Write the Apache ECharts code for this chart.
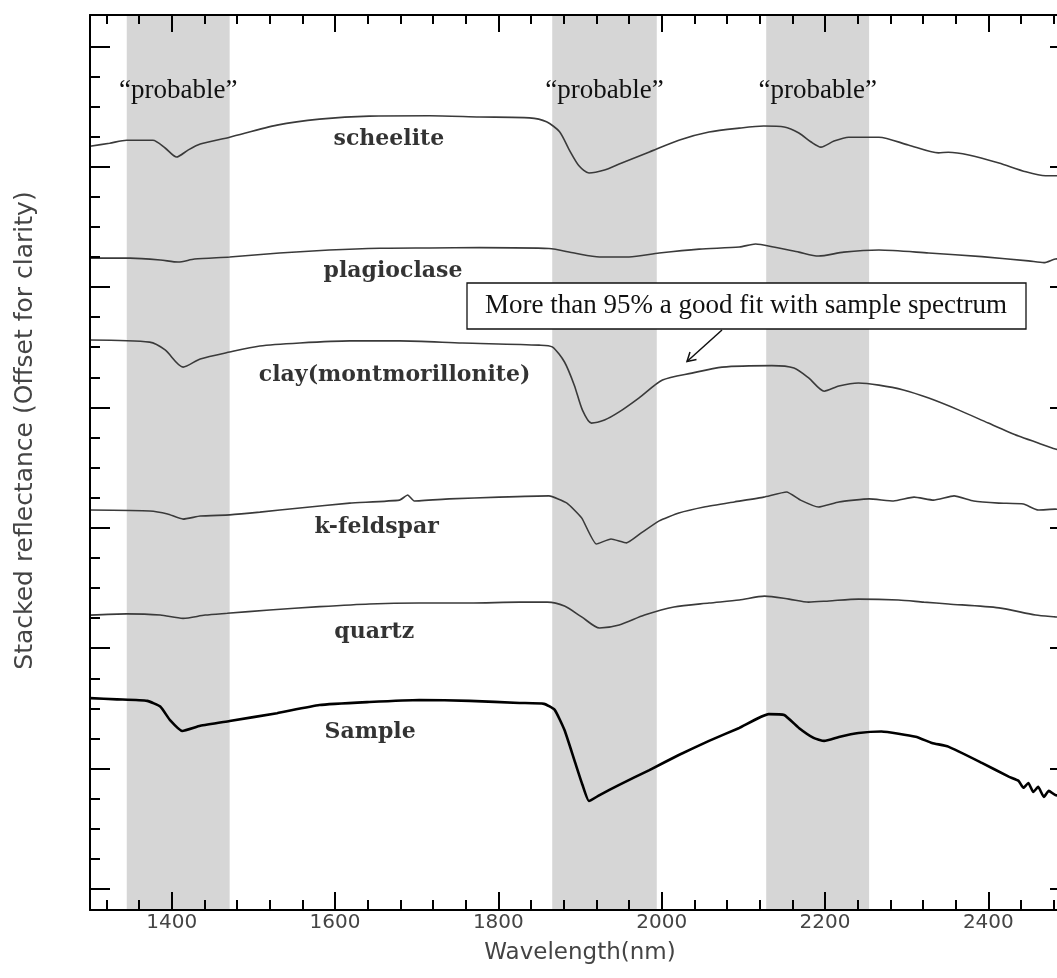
<!DOCTYPE html>
<html>
<head>
<meta charset="utf-8">
<title>Stacked reflectance spectra</title>
<script src="https://cdn.jsdelivr.net/npm/echarts@6/dist/echarts.min.js"></script>
<style>
  html, body { margin: 0; padding: 0; background: #fff; }
  #chart { width: 1057px; height: 978px; }
</style>
</head>
<body>
<div id="chart"></div>
<script>
// tick positions
const wavelengthTicks = [1400, 1600, 1800, 2000, 2200, 2400]
const minorWavelengthTicks = [1320, 1360, 1440, 1480, 1520, 1560, 1640, 1680, 1720, 1760,
  1840, 1880, 1920, 1960, 2040, 2080, 2120, 2160, 2240, 2280, 2320, 2360, 2440, 2480]
const reflectanceTicks = [0, 0.4, 0.8, 1.2, 1.6, 2.0, 2.4, 2.8]
const minorReflectanceTicks = [0.1, 0.2, 0.3, 0.5, 0.6, 0.7, 0.9, 1.0, 1.1, 1.3, 1.4, 1.5,
  1.7, 1.8, 1.9, 2.1, 2.2, 2.3, 2.5, 2.6, 2.7]

// shaded "probable" absorption windows (nm)
const probableBands = [[1345, 1471], [1866, 1994], [2128, 2254]]

// spectra: [wavelength nm, stacked reflectance]
const scheelite = [
  [1300, 2.468], [1324, 2.478], [1345, 2.488], [1377, 2.488], [1392, 2.462], [1406, 2.432],
  [1420, 2.455], [1435, 2.475], [1471, 2.498], [1529, 2.538], [1581, 2.558], [1642, 2.568],
  [1716, 2.569], [1777, 2.565], [1838, 2.562], [1859, 2.549], [1875, 2.516], [1887, 2.455],
  [1899, 2.402], [1911, 2.379], [1930, 2.389], [1948, 2.409], [1985, 2.449], [2021, 2.488],
  [2058, 2.515], [2095, 2.528], [2125, 2.535], [2150, 2.532], [2168, 2.512], [2183, 2.482],
  [2195, 2.465], [2211, 2.485], [2229, 2.498], [2266, 2.498], [2302, 2.472], [2339, 2.446],
  [2351, 2.448], [2376, 2.439], [2413, 2.412], [2446, 2.383], [2470, 2.370], [2482, 2.370],
  [2500, 2.365]
]
const plagioclase = [
  [1300, 2.096], [1349, 2.096], [1386, 2.090], [1408, 2.083], [1428, 2.093], [1471, 2.100],
  [1532, 2.113], [1593, 2.123], [1655, 2.129], [1716, 2.130], [1777, 2.131], [1862, 2.128],
  [1893, 2.113], [1924, 2.100], [1960, 2.100], [1997, 2.113], [2046, 2.126], [2095, 2.133],
  [2115, 2.143], [2137, 2.133], [2168, 2.116], [2192, 2.103], [2223, 2.116], [2266, 2.123],
  [2327, 2.113], [2392, 2.101], [2449, 2.087], [2468, 2.081], [2482, 2.093], [2500, 2.096]
]
const clay = [
  [1300, 1.824], [1373, 1.817], [1392, 1.791], [1414, 1.734], [1435, 1.761], [1471, 1.784],
  [1508, 1.804], [1557, 1.814], [1618, 1.821], [1679, 1.821], [1756, 1.814], [1850, 1.807],
  [1866, 1.801], [1881, 1.751], [1893, 1.674], [1903, 1.591], [1914, 1.548], [1930, 1.558],
  [1948, 1.585], [1972, 1.631], [2001, 1.691], [2037, 1.714], [2074, 1.734], [2135, 1.739],
  [2162, 1.731], [2180, 1.698], [2199, 1.654], [2217, 1.671], [2241, 1.681], [2266, 1.674],
  [2296, 1.658], [2327, 1.631], [2364, 1.591], [2400, 1.548], [2437, 1.505], [2461, 1.482],
  [2482, 1.462], [2500, 1.452]
]
const kFeldspar = [
  [1300, 1.259], [1373, 1.256], [1395, 1.246], [1414, 1.229], [1435, 1.239], [1471, 1.243],
  [1508, 1.252], [1557, 1.266], [1618, 1.282], [1679, 1.292], [1689, 1.309], [1697, 1.289],
  [1740, 1.296], [1801, 1.302], [1862, 1.306], [1884, 1.282], [1902, 1.233], [1920, 1.146],
  [1938, 1.163], [1957, 1.150], [1975, 1.183], [1997, 1.223], [2021, 1.249], [2052, 1.269],
  [2089, 1.286], [2125, 1.302], [2153, 1.319], [2170, 1.292], [2192, 1.269], [2217, 1.286],
  [2254, 1.296], [2284, 1.289], [2309, 1.302], [2333, 1.292], [2358, 1.306], [2382, 1.289],
  [2413, 1.282], [2443, 1.279], [2461, 1.259], [2482, 1.262], [2500, 1.256]
]
const quartz = [
  [1300, 0.910], [1345, 0.914], [1386, 0.910], [1414, 0.899], [1441, 0.910], [1468, 0.916],
  [1520, 0.927], [1581, 0.938], [1642, 0.947], [1703, 0.950], [1765, 0.950], [1826, 0.953],
  [1860, 0.953], [1881, 0.940], [1902, 0.904], [1924, 0.867], [1948, 0.877], [1979, 0.910],
  [2015, 0.937], [2058, 0.950], [2095, 0.960], [2126, 0.973], [2156, 0.963], [2180, 0.953],
  [2205, 0.957], [2241, 0.963], [2290, 0.960], [2321, 0.953], [2351, 0.947], [2413, 0.934],
  [2458, 0.910], [2482, 0.904], [2500, 0.900]
]
const sample = [
  [1300, 0.634], [1333, 0.630], [1370, 0.625], [1386, 0.606], [1398, 0.561], [1413, 0.525],
  [1435, 0.542], [1471, 0.558], [1529, 0.584], [1581, 0.611], [1642, 0.621], [1703, 0.628],
  [1765, 0.625], [1826, 0.618], [1856, 0.615], [1869, 0.595], [1881, 0.528], [1893, 0.429],
  [1903, 0.346], [1911, 0.292], [1924, 0.312], [1948, 0.346], [1985, 0.395], [2021, 0.445],
  [2058, 0.492], [2095, 0.535], [2131, 0.581], [2150, 0.578], [2168, 0.535], [2186, 0.502],
  [2199, 0.492], [2217, 0.505], [2241, 0.518], [2269, 0.523], [2311, 0.506], [2331, 0.485],
  [2351, 0.473], [2392, 0.419], [2425, 0.373], [2437, 0.359], [2443, 0.336], [2449, 0.352],
  [2455, 0.322], [2461, 0.339], [2468, 0.306], [2474, 0.326], [2482, 0.312], [2500, 0.306]
]

// curve names and where they sit: [text, nm, reflectance]
const curveLabels = [
  ['scheelite', 1666, 2.492],
  ['plagioclase', 1671, 2.053],
  ['clay(montmorillonite)', 1673, 1.708],
  ['k-feldspar', 1651, 1.203],
  ['quartz', 1648, 0.854],
  ['Sample', 1643, 0.522],
]

const spectra = [
  { name: 'scheelite', data: scheelite },
  { name: 'plagioclase', data: plagioclase },
  { name: 'clay(montmorillonite)', data: clay },
  { name: 'k-feldspar', data: kFeldspar },
  { name: 'quartz', data: quartz },
  { name: 'Sample', data: sample },
]

const X_MIN = 1300, X_MAX = 2500
const Y_MIN = -0.07, Y_MAX = 2.904
const sans = 'DejaVu Sans'

function xAxis(position, ticks, length, withLine, withLabels) {
  return {
    type: 'value', position, min: X_MIN, max: X_MAX, z: 10,
    axisLine: { show: withLine, onZero: false, lineStyle: { color: '#000', width: 2 } },
    axisTick: { inside: true, length, customValues: ticks, lineStyle: { color: '#000', width: 2 } },
    axisLabel: withLabels
      ? { customValues: ticks, formatter: (v) => String(v), color: '#444', fontFamily: sans, fontSize: 20, margin: 3 }
      : { show: false },
    splitLine: { show: false },
  }
}

function yAxis(position, ticks, length, withLine) {
  return {
    type: 'value', position, min: Y_MIN, max: Y_MAX, z: 10,
    axisLine: { show: withLine, onZero: false, lineStyle: { color: '#000', width: 2 } },
    axisTick: { inside: true, length, customValues: ticks, lineStyle: { color: '#000', width: 2 } },
    axisLabel: { show: false },
    splitLine: { show: false },
  }
}

const chart = echarts.init(document.getElementById('chart'), null, { renderer: 'canvas' })

const xAxes = [
  Object.assign(xAxis('bottom', wavelengthTicks, 18, true, true), {
    name: 'Wavelength(nm)', nameLocation: 'middle', nameGap: 32,
    nameTextStyle: { color: '#444', fontFamily: sans, fontSize: 23 },
  }),
  xAxis('bottom', minorWavelengthTicks, 10, false, false),
  xAxis('top', wavelengthTicks, 17, true, false),
  xAxis('top', minorWavelengthTicks, 9, false, false),
]

const yAxes = [
  Object.assign(yAxis('left', reflectanceTicks, 20, true), {
    name: 'Stacked reflectance (Offset for clarity)', nameLocation: 'middle', nameGap: 52,
    nameTextStyle: { color: '#444', fontFamily: sans, fontSize: 25, padding: [0, 0, 0, 64] },
  }),
  yAxis('left', minorReflectanceTicks, 10, false),
  yAxis('right', reflectanceTicks, 20, true),
  yAxis('right', minorReflectanceTicks, 10, false),
]

const series = [
  {
    type: 'line', name: 'bands', data: [], z: 1, silent: true,
    markArea: {
      silent: true,
      itemStyle: { color: '#d6d6d6' },
      label: {
        show: true, position: 'insideTop', distance: 62,
        fontFamily: 'Liberation Serif', fontSize: 27, color: '#111',
      },
      data: probableBands.map(([a, b]) => [{ name: '\u201Cprobable\u201D', xAxis: a }, { xAxis: b }]),
    },
  },
  ...spectra.map((s) => ({
    type: 'line', name: s.name, data: s.data, symbol: 'none', showSymbol: false, z: 3, silent: true,
    smooth: s.name === 'Sample' || s.name === 'k-feldspar' ? 0.15 : 0.25,
    lineStyle: s.name === 'Sample' ? { color: '#000', width: 2.6 } : { color: '#3a3a3a', width: 1.6 },
  })),
  {
    type: 'scatter', name: 'labels', z: 4, silent: true, symbolSize: 1,
    itemStyle: { color: 'rgba(0,0,0,0)' },
    data: curveLabels.map(([text, nm, v]) => [nm, v, text]),
    label: {
      show: true, position: 'inside', formatter: (p) => p.data[2],
      fontFamily: 'DejaVu Serif', fontWeight: 'bold', fontSize: 22, color: '#000',
    },
  },
]

chart.setOption({
  animation: false,
  backgroundColor: '#fff',
  grid: { left: 90, right: -13, top: 15, bottom: 68, outerBoundsMode: 'none', containLabel: false },
  xAxis: xAxes,
  yAxis: yAxes,
  series,
  graphic: [
    {
      type: 'rect', z: 100,
      shape: { x: 467, y: 283, width: 559, height: 46 },
      style: { fill: '#fff', stroke: '#111', lineWidth: 1.3 },
    },
    {
      type: 'text', z: 101, x: 746, y: 306,
      style: {
        text: 'More than 95% a good fit with sample spectrum',
        fontFamily: 'Liberation Serif', fontSize: 27, fill: '#111',
        align: 'center', verticalAlign: 'middle',
      },
    },
    {
      type: 'polyline', z: 100,
      shape: { points: [[722, 330], [687, 361.5]] },
      style: { stroke: '#111', lineWidth: 1.5, fill: 'none' },
    },
    {
      type: 'polyline', z: 100,
      shape: { points: [[690, 352], [687, 361.5], [696.5, 359.5]] },
      style: { stroke: '#111', lineWidth: 1.5, fill: 'none' },
    },
  ],
})
</script>
</body>
</html>
